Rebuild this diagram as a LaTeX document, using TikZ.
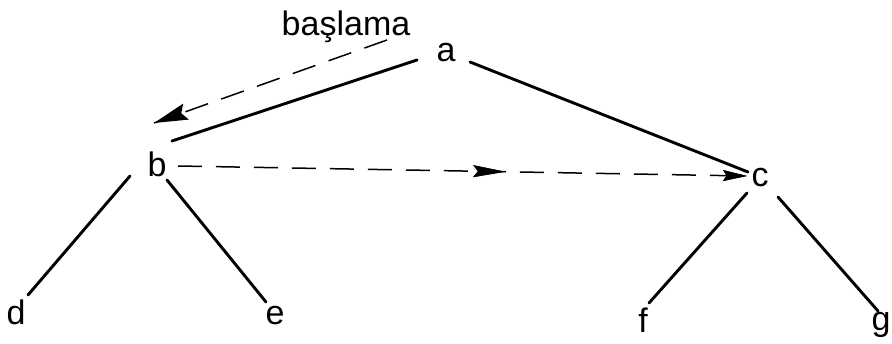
\documentclass[tikz,border=0pt]{standalone}
\usepackage{fontspec}
\setmainfont{Liberation Sans}
\usetikzlibrary{decorations.markings}
\tikzset{
  lbl/.style={anchor=base,inner sep=0pt,font=\fontsize{34}{40}\selectfont},
  edge/.style={line width=2.9pt,line cap=round},
  % filled wedge tip: position, length, half width
  tipat/.style n args={3}{postaction={decorate},decoration={markings,
    mark=at position #1 with {\fill (-#2,-#3) -- (0,0) -- (-#2,#3) -- (-0.85*#2,0) -- cycle;}}},
  walk/.style={line width=1.5pt,dash pattern=on 24pt off 14pt}
}
\begin{document}
\begin{tikzpicture}[x=1pt,y=-1pt]
\useasboundingbox (0,0) rectangle (892,344);
\node[lbl] (start) at (346,36) {başlama};
\node[lbl] (a) at (446,62) {a};
\node[lbl] (b) at (157,177) {b};
\node[lbl] (c) at (760,187) {c};
\node[lbl] (d) at (16,325) {d};
\node[lbl] (e) at (275,325) {e};
\node[lbl] (f) at (643,333) {f};
\node[lbl] (g) at (881,331) {g};
% tree edges
\draw[edge] ([shift={(-29,-2)}]a.base) -- ([shift={(15,-36)}]b.base);
\draw[edge] ([shift={(24,0)}]a.base) -- ([shift={(-12,-15)}]c.base);
\draw[edge] ([shift={(-27,-1)}]b.base) -- ([shift={(12,-30)}]d.base);
\draw[edge] ([shift={(10,3)}]b.base) -- ([shift={(-9,-23)}]e.base);
\draw[edge] ([shift={(-13,6)}]c.base) -- ([shift={(6,-30)}]f.base);
\draw[edge] ([shift={(18,10)}]c.base) -- ([shift={(-3,-20)}]g.base);
% traversal order
\draw[walk,tipat={1}{34}{8.5}] ([shift={(-59,-22)}]a.base) -- ([shift={(-3,-54)}]b.base);
\draw[walk,tipat={0.575}{32}{6},tipat={1}{24}{5.5}] ([shift={(21,-11)}]b.base) -- ([shift={(-13,-11)}]c.base);
\end{tikzpicture}
\end{document}
